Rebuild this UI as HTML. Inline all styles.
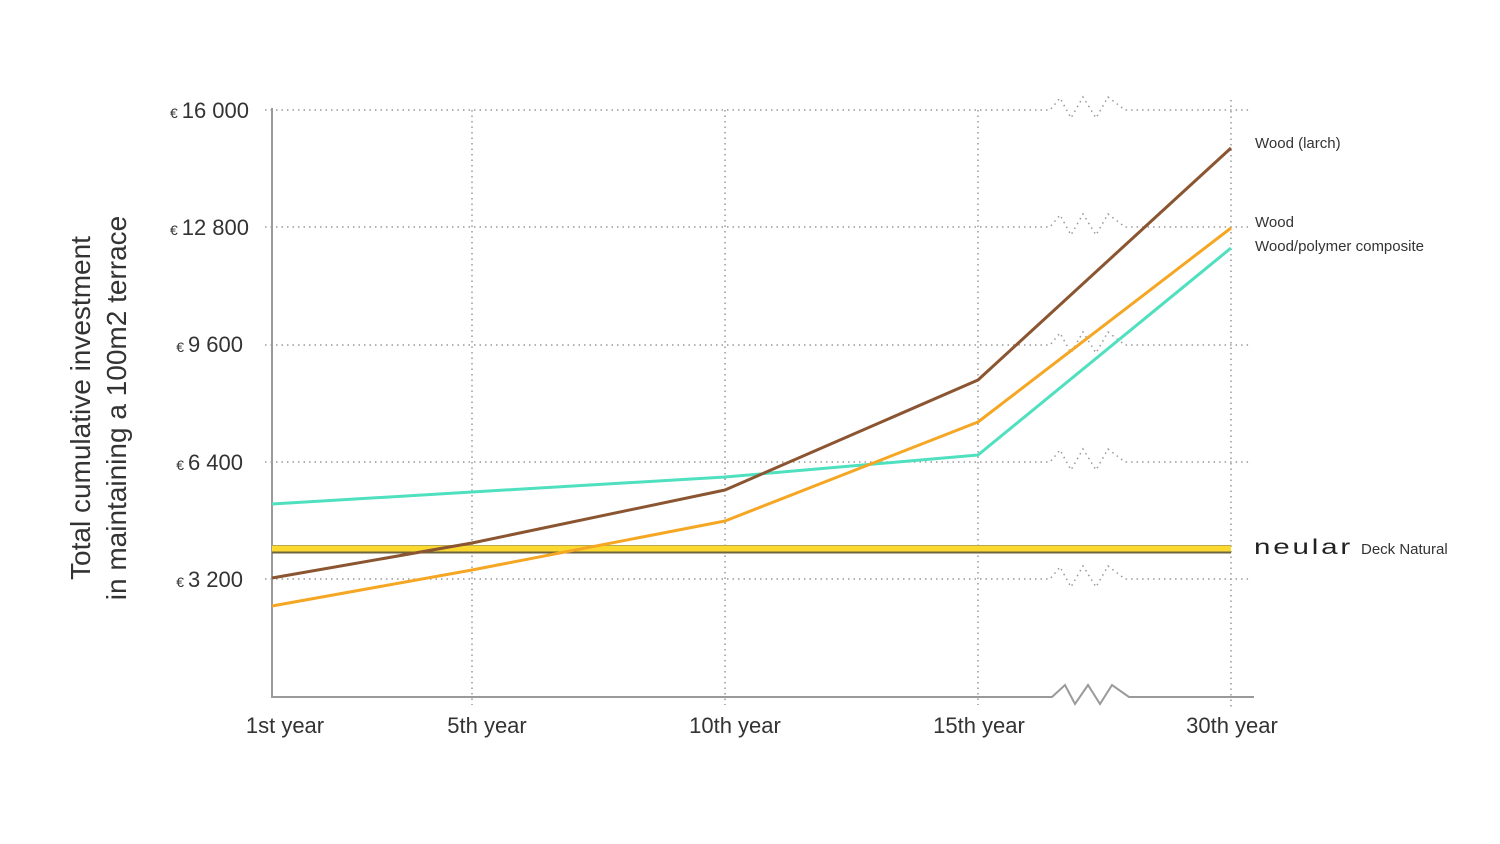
<!DOCTYPE html>
<html><head><meta charset="utf-8"><style>
html,body{margin:0;padding:0;background:#fff;}
svg{display:block;font-family:"Liberation Sans",sans-serif;}
</style></head><body>
<svg width="1500" height="844" viewBox="0 0 1500 844" xmlns="http://www.w3.org/2000/svg">
<g stroke="#999" stroke-width="1.5" stroke-dasharray="1.5 4" fill="none">
<path d="M265 110 H1050 L1060 98 L1071 118 L1083 97 L1096 118 L1108 97 L1125 110 H1250"/>
<path d="M265 227 H1050 L1060 215 L1071 235 L1083 214 L1096 235 L1108 214 L1125 227 H1250"/>
<path d="M265 345 H1050 L1060 333 L1071 353 L1083 332 L1096 353 L1108 332 L1125 345 H1250"/>
<path d="M265 462 H1050 L1060 450 L1071 470 L1083 449 L1096 470 L1108 449 L1125 462 H1250"/>
<path d="M265 579 H1050 L1060 567 L1071 587 L1083 566 L1096 587 L1108 566 L1125 579 H1250"/>
<path d="M472 110 V705 M725 110 V705 M978 110 V705 M1231 100 V710"/>
</g>
<g stroke="#9a9a9a" stroke-width="2" fill="none">
<path d="M272 108 V697 H1052 L1065 685 L1075 704 L1088 685 L1100 704 L1112 685 L1129 697 H1254"/>
</g>
<rect x="272" y="545" width="959" height="8" fill="#fbd92f"/>
<line x1="272" y1="545.5" x2="1231" y2="545.5" stroke="#b8a94a" stroke-width="1"/>
<line x1="272" y1="552.5" x2="1231" y2="552.5" stroke="#6f6440" stroke-width="2"/>
<g fill="none" stroke-width="3" stroke-linejoin="round">
<polyline stroke="#4fe0bf" points="272,504 472,492 725,477 978,455 1231,248"/>
<polyline stroke="#f5a623" points="272,606 472,570 725,521 978,422 1231,228"/>
<polyline stroke="#8a5530" points="272,578 472,543 725,490 978,380 1231,148"/>
</g>
<g fill="#333" font-size="22" text-anchor="end">
<text x="249" y="118"><tspan font-size="14">€ </tspan>16 000</text>
<text x="249" y="235"><tspan font-size="14">€ </tspan>12 800</text>
<text x="243" y="352"><tspan font-size="14">€ </tspan>9 600</text>
<text x="243" y="470"><tspan font-size="14">€ </tspan>6 400</text>
<text x="243" y="587"><tspan font-size="14">€ </tspan>3 200</text>
</g>
<g fill="#333" font-size="22" text-anchor="middle">
<text x="285" y="733">1st year</text>
<text x="487" y="733">5th year</text>
<text x="735" y="733">10th year</text>
<text x="979" y="733">15th year</text>
<text x="1232" y="733">30th year</text>
</g>
<g fill="#333" font-size="28" text-anchor="middle">
<text transform="translate(90,408) rotate(-90)">Total cumulative investment</text>
<text transform="translate(126,408) rotate(-90)">in maintaining a 100m2 terrace</text>
</g>
<g fill="#333" font-size="15">
<text x="1255" y="148">Wood (larch)</text>
<text x="1255" y="227">Wood</text>
<text x="1255" y="251">Wood/polymer composite</text>
<text x="1254" y="554" font-size="21" letter-spacing="2" fill="#222" textLength="99" lengthAdjust="spacingAndGlyphs">neular</text>
<text x="1361" y="554">Deck Natural</text>
</g>
</svg>
</body></html>
